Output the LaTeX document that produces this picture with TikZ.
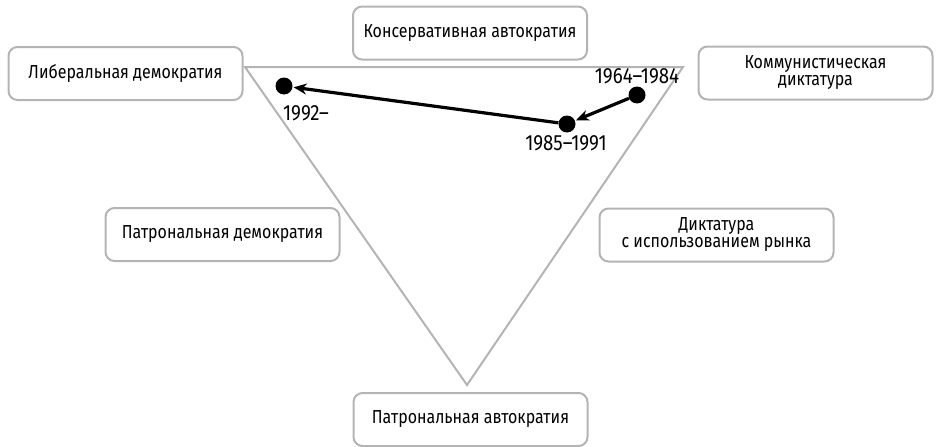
\documentclass[tikz,border=0pt]{standalone}
\usepackage{fontspec}
\setmainfont{Fira Sans}[FakeStretch=0.85]
\usetikzlibrary{arrows.meta}
\definecolor{boxgray}{HTML}{B4B4B4}
\tikzset{
  regime/.style={draw=boxgray, line width=2pt, rounded corners=9pt, fill=white,
    minimum width=234pt, minimum height=53pt, align=center, font=\fontsize{18.8}{20}\selectfont},
  dot/.style={circle, fill=black, inner sep=0pt, minimum size=17pt},
  yearlab/.style={font=\fontsize{22}{24}\selectfont, inner sep=0pt},
  move/.style={line width=3.2pt, -{Stealth[length=13pt,width=11pt]}, shorten >=1pt}
}
\begin{document}
\begin{tikzpicture}[x=1pt,y=-1pt]
\useasboundingbox (0,0) rectangle (938,447);
% triangle
\coordinate (tl) at (245,67);
\coordinate (tr) at (683,67);
\coordinate (bt) at (467,385);
\draw[boxgray, line width=2pt, line join=miter] (tl) -- (tr) -- (bt) -- cycle;
% boxes
\node[regime] (lib) at (125.5,73.5) {Либеральная демократия};
\node[regime] (cons) at (470,33) {Консервативная автократия};
\node[regime] (comm) at (815.5,73) {Коммунистическая\\[-3pt]диктатура};
\node[regime] (pdem) at (222.5,234.5) {Патрональная демократия};
\node[regime] (mkt) at (716.5,235) {Диктатура\\[-3pt]с использованием рынка};
\node[regime] (paut) at (470.5,419.5) {Патрональная автократия};
% dots
\node[dot] (d1) at (637,95) {};
\node[dot] (d2) at (567,124) {};
\node[dot] (d3) at (284,86) {};
\node[yearlab] (l1) at (637,76) {1964–1984};
\node[yearlab] (l2) at (566,143) {1985–1991};
\node[yearlab] (l3) at (306,113) {1992–};
\draw[move] (d1) -- (d2);
\draw[move] (d2) -- (d3);
\end{tikzpicture}
\end{document}
